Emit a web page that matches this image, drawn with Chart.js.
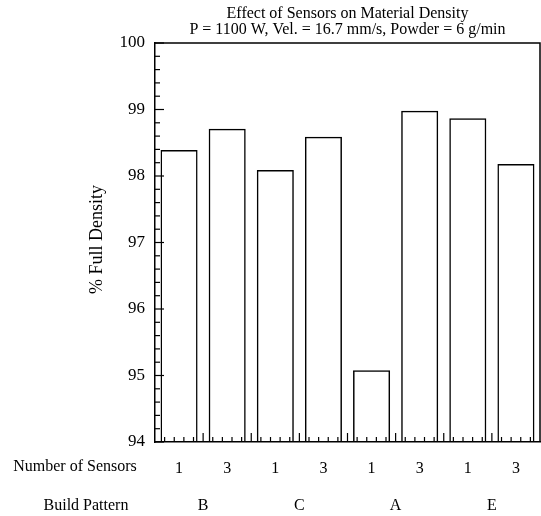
<!DOCTYPE html>
<html><head><meta charset="utf-8">
<script src="https://cdn.jsdelivr.net/npm/chart.js@4"></script>
<style>html,body{margin:0;padding:0;background:#fff}canvas{display:block}</style>
</head><body>
<canvas id="c" width="541" height="516" style="width:541px;height:516px"></canvas>
<script>
const sensorLabels = ['1','3','1','3','1','3','1','3'];
const buildPatterns = ['B','C','A','E'];
const densityValues = [98.39, 98.71, 98.09, 98.59, 95.08, 98.98, 98.87, 98.18];
const yMin = 94, yMax = 100;
const titleLines = ['Effect of Sensors on Material Density', 'P = 1100 W, Vel. = 16.7 mm/s, Powder = 6 g/min'];
const yTitle = '% Full Density';
const rowHeaders = ['Number of Sensors', 'Build Pattern'];

const FONT = '"Liberation Serif", "Times New Roman", serif';

const decor = {
  id: 'decor',
  afterDraw(chart) {
    const {ctx, chartArea: a, scales: {x, y}} = chart;
    ctx.save();
    ctx.strokeStyle = '#000';
    ctx.lineWidth = 1.5;
    ctx.beginPath();
    ctx.moveTo(a.left, a.top); ctx.lineTo(a.right, a.top); ctx.lineTo(a.right, a.bottom);
    ctx.stroke();
    ctx.lineWidth = 1.2;
    const nY = Math.round((y.max - y.min) / 0.2);
    for (let k = 0; k <= nY; k++) {
      const py = y.getPixelForValue(y.min + k * 0.2);
      const len = k % 5 === 0 ? 9 : 5;
      ctx.beginPath(); ctx.moveTo(a.left, py); ctx.lineTo(a.left + len, py); ctx.stroke();
    }
    const step = x.getPixelForValue(1) - x.getPixelForValue(0);
    const x0 = x.getPixelForValue(0) - step / 2;
    const nX = sensorLabels.length * 5;
    for (let k = 1; k < nX; k++) {
      const px = x0 + k * step / 5;
      const len = k % 5 === 0 ? 9 : 5;
      ctx.beginPath(); ctx.moveTo(px, a.bottom); ctx.lineTo(px, a.bottom - len); ctx.stroke();
    }
    ctx.fillStyle = '#000';
    ctx.font = '16px ' + FONT;
    ctx.textAlign = 'center';
    ctx.textBaseline = 'middle';
    const row1 = a.bottom + 25, row2 = a.bottom + 64;
    ctx.fillText(rowHeaders[0], a.left - 80, row1);
    ctx.fillText(rowHeaders[1], a.left - 69, row2);
    buildPatterns.forEach((p, i) => {
      const cx = (x.getPixelForValue(2 * i) + x.getPixelForValue(2 * i + 1)) / 2;
      ctx.fillText(p, cx, row2);
    });
    ctx.save();
    ctx.translate(a.left - 58, (a.top + a.bottom) / 2 - 3);
    ctx.rotate(-Math.PI / 2);
    ctx.font = '18px ' + FONT;
    ctx.fillText(yTitle, 0, 0);
    ctx.restore();
    ctx.restore();
  }
};

new Chart(document.getElementById('c'), {
  type: 'bar',
  data: {
    labels: sensorLabels,
    datasets: [{
      data: densityValues,
      backgroundColor: 'rgba(255,255,255,0)',
      borderColor: '#000',
      borderWidth: 1.5,
      barPercentage: 0.77,
      categoryPercentage: 1
    }]
  },
  options: {
    responsive: false,
    animation: false,
    devicePixelRatio: 1,
    layout: {padding: {left: 0, right: 1, top: 0, bottom: 0}},
    plugins: {
      legend: {display: false},
      tooltip: {enabled: false},
      title: {
        display: true,
        text: titleLines,
        fullSize: false,
        color: '#000',
        font: {family: FONT, size: 16, weight: 'normal', lineHeight: 1.0},
        padding: {top: 6, bottom: 5}
      }
    },
    scales: {
      x: {
        grid: {display: false, drawTicks: false},
        border: {display: true, color: '#000', width: 1.5},
        ticks: {color: '#000', font: {family: FONT, size: 16}, padding: 17, maxRotation: 0},
        afterFit(s) { s.height = 74; }
      },
      y: {
        min: yMin, max: yMax,
        grid: {display: false, drawTicks: false},
        border: {display: true, color: '#000', width: 1.5},
        ticks: {stepSize: 1, color: '#000', font: {family: FONT, size: 17}, padding: 10},
        afterFit(s) { s.width = 155; }
      }
    }
  },
  plugins: [decor]
});
</script>
</body></html>
